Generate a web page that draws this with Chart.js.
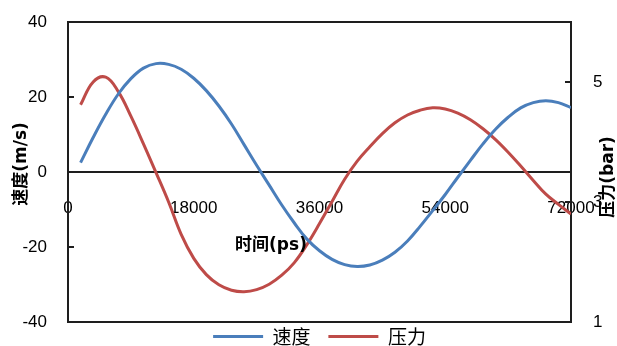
<!DOCTYPE html>
<html lang="zh">
<head>
<meta charset="UTF-8">
<title>速度 压力</title>
<style>
    html, body { margin: 0; padding: 0; background: #fff; }
</style>
</head>
<body>
<canvas id="myChart" width="617" height="346"></canvas>
<script src="https://cdn.jsdelivr.net/npm/chart.js"></script>
<script>
    // time axis (ps), every 1800 ps
    const times = [1800, 3600, 5400, 7200, 9000, 10800, 12600, 14400, 16200, 18000,
        19800, 21600, 23400, 25200, 27000, 28800, 30600, 32400, 34200, 36000,
        37800, 39600, 41400, 43200, 45000, 46800, 48600, 50400, 52200, 54000,
        55800, 57600, 59400, 61200, 63000, 64800, 66600, 68400, 70200, 72000];

    // 速度 (m/s), left axis
    const speed = [2.5, 9.2, 15.4, 20.8, 24.9, 27.7, 28.9, 28.7, 27.4, 25.0,
        21.7, 17.6, 12.8, 7.3, 1.8, -3.5, -8.8, -13.6, -17.9, -21.0,
        -23.3, -24.7, -25.2, -24.8, -23.5, -21.4, -18.4, -14.5, -10.3, -6.0,
        -1.4, 3.1, 7.5, 11.4, 14.6, 17.1, 18.5, 19.0, 18.5, 17.2];

    // 压力 (bar), right axis
    const pressure = [4.62, 5.0, 5.08, 4.84, 4.43, 3.97, 3.49, 3.0, 2.46, 2.06,
        1.79, 1.62, 1.53, 1.505, 1.54, 1.63, 1.78, 1.99, 2.29, 2.64,
        3.01, 3.38, 3.68, 3.92, 4.14, 4.32, 4.45, 4.53, 4.57, 4.55,
        4.48, 4.37, 4.22, 4.04, 3.83, 3.60, 3.36, 3.13, 2.96, 2.80];

    const xTicks = [0, 18000, 36000, 54000, 72000];
    const speedTicks = [-40, -20, 0, 20, 40];
    const pressureTicks = [1, 3, 5];

    const blue = 'rgb(74, 126, 187)';
    const red = 'rgb(190, 75, 72)';
    const axisColor = '#1e1e1e';
    const numFont = { family: '"Liberation Sans", Arial, sans-serif', size: 17 };
    const titleCss = 'bold 17px "DejaVu Sans", "Noto Sans CJK SC", sans-serif';

    const toPoints = (ys) => times.map((t, i) => ({ x: t, y: ys[i] }));
    const fixTicks = (list) => (scale) => { scale.ticks = list.map(v => ({ value: v })); };

    function drawTitle(ctx, text, x, y, angle) {
        ctx.save();
        ctx.translate(x, y);
        ctx.rotate(angle);
        ctx.fillStyle = '#000';
        ctx.font = titleCss;
        ctx.textAlign = 'center';
        ctx.textBaseline = 'middle';
        ctx.fillText(text, 0, 0);
        ctx.restore();
    }

    // box round the plot, small inner tick marks and the axis titles
    const frame = {
        id: 'frame',
        afterDraw(chart) {
            const { ctx, chartArea: a, scales } = chart;
            ctx.save();
            ctx.strokeStyle = axisColor;
            ctx.lineWidth = 2;
            ctx.beginPath();
            ctx.moveTo(a.left, a.top); ctx.lineTo(a.right, a.top);
            ctx.moveTo(a.left, a.bottom); ctx.lineTo(a.right, a.bottom);
            scales.y.ticks.forEach(t => {
                const py = scales.y.getPixelForValue(t.value);
                ctx.moveTo(a.left, py); ctx.lineTo(a.left + 6, py);
            });
            scales.y1.ticks.forEach(t => {
                const py = scales.y1.getPixelForValue(t.value);
                ctx.moveTo(a.right - 6, py); ctx.lineTo(a.right, py);
            });
            ctx.stroke();
            ctx.restore();

            const zero = scales.y.getPixelForValue(0);
            drawTitle(ctx, '速度(m/s)', 22, zero - 8, -Math.PI / 2);
            drawTitle(ctx, '时间(ps)', 271, zero + 74, 0);
            drawTitle(ctx, '压力(bar)', chart.width - 8, zero + 5, -Math.PI / 2);
        }
    };

    const data = {
        datasets: [{
            label: '速度',
            data: toPoints(speed),
            borderColor: blue,
            backgroundColor: blue,
            borderWidth: 3,
            pointRadius: 0,
            tension: 0.4,
            yAxisID: 'y'
        }, {
            label: '压力',
            data: toPoints(pressure),
            borderColor: red,
            backgroundColor: red,
            borderWidth: 3,
            pointRadius: 0,
            tension: 0.4,
            yAxisID: 'y1'
        }]
    };

    const config = {
        type: 'line',
        data,
        options: {
            responsive: false,
            animation: false,
            devicePixelRatio: 1,
            layout: { padding: { top: 22, bottom: -10, left: 0, right: 0 } },
            plugins: {
                tooltip: { enabled: false },
                legend: {
                    position: 'bottom',
                    fullSize: false,
                    labels: {
                        color: '#000',
                        font: { family: '"Noto Sans CJK SC", sans-serif', size: 19 },
                        boxWidth: 50,
                        boxHeight: 3,
                        padding: 5,
                        generateLabels: (chart) => Chart.defaults.plugins.legend.labels.generateLabels(chart)
                            .map((l, i) => Object.assign(l, { lineWidth: 0, text: i === 0 ? l.text + '   ' : l.text }))
                    }
                }
            },
            scales: {
                x: {
                    type: 'linear',
                    min: 0,
                    max: 72000,
                    position: { y: 0 },
                    afterBuildTicks: fixTicks(xTicks),
                    grid: { display: false, drawTicks: true, tickLength: 26 },
                    border: { display: true, color: axisColor, width: 2 },
                    ticks: {
                        color: '#000',
                        font: numFont,
                        padding: 0,
                        maxRotation: 0,
                        autoSkip: false,
                        callback: (v) => String(v)
                    }
                },
                y: {
                    position: 'left',
                    min: -40,
                    max: 40,
                    afterBuildTicks: fixTicks(speedTicks),
                    afterFit: (s) => { s.width = 68; },
                    grid: { display: false, drawTicks: true, tickLength: 21 },
                    border: { display: true, color: axisColor, width: 2 },
                    ticks: { color: '#000', font: numFont, padding: 0 }
                },
                y1: {
                    position: 'right',
                    min: 1,
                    max: 6,
                    afterBuildTicks: fixTicks(pressureTicks),
                    afterFit: (s) => { s.width = 46; },
                    grid: { display: false, drawTicks: true, tickLength: 22 },
                    border: { display: true, color: axisColor, width: 2 },
                    ticks: { color: '#000', font: numFont, padding: 0 }
                }
            }
        },
        plugins: [frame]
    };

    var myChart = new Chart(document.getElementById('myChart'), config);
</script>
</body>
</html>
